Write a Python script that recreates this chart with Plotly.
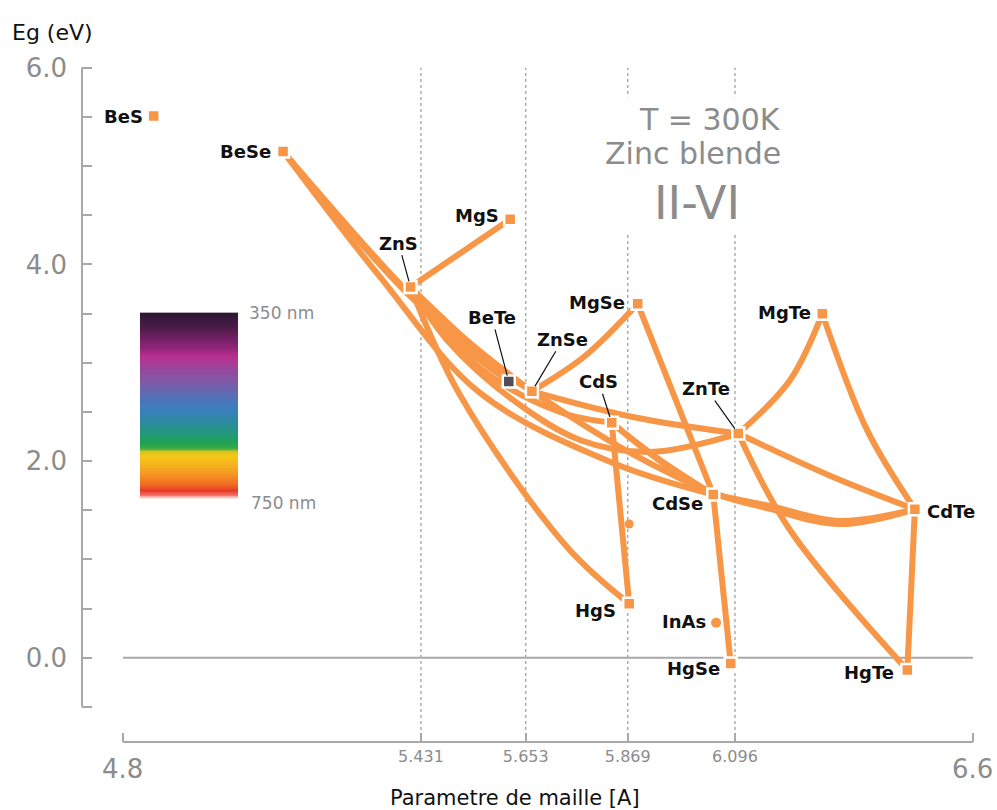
import numpy as np
import plotly.graph_objects as go

# ---------------- data ----------------
compounds = ["BeS", "BeSe", "ZnS", "MgS", "BeTe", "ZnSe", "MgSe", "CdS",
             "ZnTe", "MgTe", "CdSe", "CdTe", "HgS", "HgSe", "HgTe"]
lattice_a = [4.865, 5.139, 5.409, 5.620, 5.617, 5.666, 5.890, 5.835,
             6.103, 6.281, 6.050, 6.477, 5.872, 6.087, 6.461]
band_gap = [5.51, 5.15, 3.77, 4.46, 2.81, 2.71, 3.60, 2.39,
            2.28, 3.50, 1.66, 1.51, 0.55, -0.06, -0.125]

other_name = ["InAs"]
other_a = [6.056]
other_gap = [0.356]

# unlabeled small dot seen on the CdS-HgS branch
dot_a = [5.872]
dot_gap = [1.36]

# ternary alloy curves: end compounds + intermediate points
curve_ends = [("ZnS", "MgS"), ("BeSe", "BeTe"), ("BeSe", "ZnSe"), ("ZnS", "ZnSe"),
              ("ZnS", "CdS"), ("ZnS", "ZnTe"), ("BeSe", "CdSe"), ("ZnS", "HgS"),
              ("ZnSe", "MgSe"), ("MgSe", "CdSe"), ("ZnSe", "ZnTe"), ("ZnSe", "CdSe"),
              ("CdS", "CdSe"), ("CdS", "HgS"), ("ZnTe", "MgTe"), ("MgTe", "CdTe"),
              ("ZnTe", "CdTe"), ("ZnTe", "HgTe"), ("CdSe", "CdTe"), ("CdS", "CdTe"),
              ("HgTe", "CdTe"), ("CdSe", "HgSe")]
curve_via_a = [[], [5.3866, 5.5349], [5.3993, 5.5772], [5.5349],
               [5.556, 5.7255], [5.4861, 5.6259, 5.7678, 5.916], [5.3443, 5.556, 5.8377],
               [5.5137, 5.7403],
               [5.7784], [], [5.880], [5.8525],
               [5.9372], [], [6.2125], [6.3756],
               [6.3036], [6.2125], [6.1702, 6.3184], [6.0219, 6.1702, 6.3184],
               [], []]
curve_via_gap = [[], [3.802, 3.110], [3.720, 2.988], [3.201],
                 [2.947, 2.499], [3.232, 2.622, 2.215, 2.093], [3.873, 2.693, 1.981],
                 [2.672, 1.126],
                 [3.069], [], [2.449], [2.143],
                 [2.011], [], [2.823], [2.317],
                 [1.838], [1.299], [1.543, 1.391], [1.737, 1.513, 1.360],
                 [], []]

x_tick_vals = [4.8, 5.431, 5.653, 5.869, 6.096, 6.6]
x_tick_text = ["", "5.431", "5.653", "5.869", "6.096", ""]
x_big_vals = [4.8, 6.6]
x_big_text = ["4.8", "6.6"]
y_tick_vals = [-0.5, 0.0, 0.5, 1.0, 1.5, 2.0, 2.5, 3.0, 3.5, 4.0, 4.5, 5.0, 5.5, 6.0]
y_tick_text = ["", "0.0", "", "", "", "2.0", "", "", "", "4.0", "", "", "", "6.0"]
ref_lattice = [5.431, 5.653, 5.869, 6.096]

# visible spectrum bar: band-gap positions (eV) and the colours seen there
spec_eg = [1.62, 1.66, 1.70, 1.76, 1.85, 1.95, 2.05, 2.10, 2.13, 2.18, 2.28,
           2.40, 2.52, 2.62, 2.80, 2.93, 3.06, 3.16, 3.36, 3.51]
spec_col = ["#fde6e0", "#ef6a5e", "#e83a26", "#f06a22", "#f59024", "#f7b020",
            "#f5c818", "#d8c21e", "#3aaa45", "#1ea552", "#24977a", "#2c8aa0",
            "#3a80c0", "#4d74b8", "#7d5aa8", "#96489e", "#b8308f", "#8e2478",
            "#4a1b48", "#2b1832"]

# ---------------- styles ----------------
ORANGE = "#F79646"
GRAY = "#8c8c8c"
AXIS = "#a8a8a8"
LBL_FONT = dict(family="DejaVu Sans", size=18, color="#111111")
X0, X1 = 4.7132, 6.6149
Y0, Y1 = -0.8576, 6.080

pos = {n: (a, g) for n, a, g in zip(compounds, lattice_a, band_gap)}

fig = go.Figure()

# spectrum bar as heatmap
lo, hi = spec_eg[0], spec_eg[-1]
edges = np.linspace(lo, hi, 241)
centers = (edges[:-1] + edges[1:]) / 2
cscale = [[(e - lo) / (hi - lo), c] for e, c in zip(spec_eg, spec_col)]
fig.add_trace(go.Heatmap(x=[4.836, 5.0435], y=edges, z=centers.reshape(-1, 1),
                         colorscale=cscale, zmin=lo, zmax=hi, showscale=False,
                         hoverinfo="skip"))

# curves
for (a_name, b_name), va, vg in zip(curve_ends, curve_via_a, curve_via_gap):
    xa, ya = pos[a_name]
    xb, yb = pos[b_name]
    xs = [xa] + list(va) + [xb]
    ys = [ya] + list(vg) + [yb]
    fig.add_trace(go.Scatter(x=xs, y=ys, mode="lines",
                             line=dict(color=ORANGE, width=6, shape="spline", smoothing=1.0),
                             hoverinfo="skip", showlegend=False))

# small dots
fig.add_trace(go.Scatter(x=dot_a, y=dot_gap, mode="markers",
                         marker=dict(symbol="circle", size=9, color=ORANGE),
                         hoverinfo="skip", showlegend=False))
fig.add_trace(go.Scatter(x=other_a, y=other_gap, mode="markers",
                         marker=dict(symbol="circle", size=10, color=ORANGE),
                         hoverinfo="skip", showlegend=False))

# compound markers
mcol = ["#4f4e58" if n == "BeTe" else ORANGE for n in compounds]
fig.add_trace(go.Scatter(x=lattice_a, y=band_gap, mode="markers",
                         marker=dict(symbol="square", size=12, color=mcol,
                                     line=dict(color="white", width=2.5)),
                         hoverinfo="skip", showlegend=False))

annotations = []
# labels without leader lines: (xshift, yshift, anchor)
plain = {"BeS": (-9, 0, "right"), "BeSe": (-10, 0, "right"), "MgS": (-9, 4, "right"),
         "MgSe": (-11, 1, "right"), "MgTe": (-9, 1, "right"), "CdSe": (-8, -9, "right"),
         "CdTe": (10, -2, "left"), "HgS": (-11, -7, "right"), "HgSe": (-9, -5, "right"),
         "HgTe": (-11, -3, "right"), "InAs": (-8, 1, "right")}
leader = {"ZnS": (-12, -44), "BeTe": (-17, -64), "ZnSe": (31, -52),
          "CdS": (-13, -41), "ZnTe": (-32, -45)}
allpos = dict(pos)
allpos.update({n: (a, g) for n, a, g in zip(other_name, other_a, other_gap)})
for n, (xs_, ys_, anc) in plain.items():
    a, g = allpos[n]
    annotations.append(dict(x=a, y=g, text="<b>" + n + "</b>", showarrow=False, xanchor=anc,
                            yanchor="middle", xshift=xs_, yshift=ys_, font=LBL_FONT))
for n, (ax, ay) in leader.items():
    a, g = allpos[n]
    annotations.append(dict(x=a, y=g, text="<b>" + n + "</b>", showarrow=True, ax=ax, ay=ay,
                            arrowhead=0, arrowwidth=1.2, arrowcolor="#111111",
                            standoff=6, font=LBL_FONT))

# big x tick labels
for v, t in zip(x_big_vals, x_big_text):
    annotations.append(dict(x=v, y=-0.0396, xref="x", yref="paper", text=t,
                            showarrow=False, xanchor="center", yanchor="middle",
                            font=dict(family="DejaVu Sans", size=26, color=GRAY)))

# spectrum labels
annotations.append(dict(x=5.062, y=3.51, text="350 nm", showarrow=False, xanchor="left",
                        yanchor="middle", font=dict(family="DejaVu Sans", size=17, color=GRAY)))
annotations.append(dict(x=5.067, y=1.574, text="750 nm", showarrow=False, xanchor="left",
                        yanchor="middle", font=dict(family="DejaVu Sans", size=17, color=GRAY)))

# title block
annotations.append(dict(x=6.1977, y=5.47, text="T = 300K", showarrow=False, xanchor="right",
                        yanchor="middle", font=dict(family="DejaVu Sans", size=30, color=GRAY)))
annotations.append(dict(x=6.1977, y=5.132, text="Zinc blende", showarrow=False, xanchor="right",
                        yanchor="middle", font=dict(family="DejaVu Sans", size=30, color=GRAY)))
annotations.append(dict(x=6.0156, y=4.626, text="II-VI", showarrow=False, xanchor="center",
                        yanchor="middle", font=dict(family="DejaVu Sans", size=46, color=GRAY)))

# axis titles
annotations.append(dict(x=-0.0802, y=1.041, xref="paper", yref="paper", text="Eg (eV)",
                        showarrow=False, xanchor="left", yanchor="middle",
                        font=dict(family="DejaVu Sans", size=22, color="#111111")))
annotations.append(dict(x=0.4822, y=-0.0821, xref="paper", yref="paper",
                        text="Parametre de maille [A]", showarrow=False, xanchor="center",
                        yanchor="middle", font=dict(family="DejaVu Sans", size=21, color="#111111")))

shapes = []
for v in ref_lattice:
    shapes.append(dict(type="line", xref="x", yref="y", x0=v, x1=v, y0=Y0, y1=6.0,
                       line=dict(color="#9a9a9a", width=1.2, dash="dot"), layer="below"))
shapes.append(dict(type="rect", xref="x", yref="y", x0=5.806, x1=6.22, y0=4.32, y1=5.70,
                   fillcolor="white", line=dict(width=0), layer="below"))
shapes.append(dict(type="line", xref="x", yref="y", x0=4.8, x1=6.6, y0=0, y1=0,
                   line=dict(color=AXIS, width=2), layer="below"))
shapes.append(dict(type="line", xref="paper", yref="y", x0=0, x1=0, y0=-0.5, y1=6.0,
                   line=dict(color=AXIS, width=2), layer="below"))
shapes.append(dict(type="line", xref="x", yref="paper", x0=4.8, x1=6.6, y0=0, y1=0,
                   line=dict(color=AXIS, width=2), layer="below"))

fig.update_layout(
    width=997, height=810,
    margin=dict(l=82, r=17, t=60, b=68),
    plot_bgcolor="white", paper_bgcolor="white",
    showlegend=False,
    xaxis=dict(range=[X0, X1], showgrid=False, zeroline=False, showline=False,
               tickmode="array", tickvals=x_tick_vals, ticktext=x_tick_text,
               ticks="inside", ticklen=9, tickwidth=2, tickcolor=AXIS,
               tickfont=dict(family="DejaVu Sans", size=16, color=GRAY),
               ticklabelstandoff=3),
    yaxis=dict(range=[Y0, Y1], showgrid=False, zeroline=False, showline=False,
               tickmode="array", tickvals=y_tick_vals, ticktext=y_tick_text,
               ticks="inside", ticklen=10, tickwidth=2, tickcolor=AXIS,
               tickfont=dict(family="DejaVu Sans", size=26, color=GRAY),
               ticklabelstandoff=14),
    annotations=annotations,
    shapes=shapes,
)

fig.write_html("out.html")
